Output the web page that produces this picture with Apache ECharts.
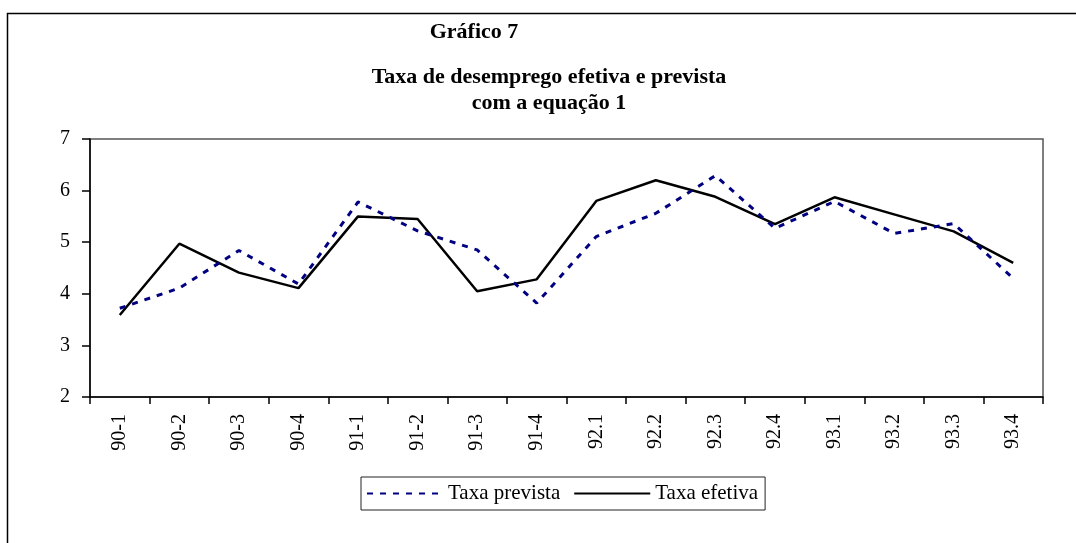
<!DOCTYPE html>
<html>
<head>
<meta charset="utf-8">
<title>Gráfico 7</title>
<script src="https://cdn.jsdelivr.net/npm/echarts@6/dist/echarts.min.js"></script>
<style>
  html, body { margin: 0; padding: 0; background: #fff; }
  #chart { width: 1076px; height: 543px; }
</style>
</head>
<body>
<div id="chart"></div>
<script>
// trimestres
var categories = ['90-1', '90-2', '90-3', '90-4', '91-1', '91-2', '91-3', '91-4',
  '92.1', '92.2', '92.3', '92.4', '93.1', '93.2', '93.3', '93.4']
// taxa prevista (equação 1)
var taxaPrevista = [3.72, 4.11, 4.84, 4.19, 5.78, 5.22, 4.85, 3.82,
  5.11, 5.56, 6.29, 5.27, 5.79, 5.17, 5.36, 4.30]
// taxa efetiva
var taxaEfetiva = [3.59, 4.97, 4.41, 4.11, 5.50, 5.45, 4.05, 4.28,
  5.80, 6.20, 5.88, 5.35, 5.87, 5.54, 5.21, 4.60]
var yTicks = [2, 7, 1] // min, max, interval

var serif = '"Liberation Serif", "DejaVu Serif", serif'

var chart = echarts.init(document.getElementById('chart'))

var option = {
  backgroundColor: '#fff',
  animation: false,
  graphic: [
    {
      // moldura externa
      type: 'rect',
      shape: { x: 7.5, y: 13.5, width: 1200, height: 700 },
      style: { fill: 'none', stroke: '#000', lineWidth: 1.5 },
      silent: true
    },
    {
      type: 'text',
      x: 474,
      y: 32,
      style: {
        text: 'Gráfico 7',
        font: 'bold 22px ' + serif,
        fill: '#000',
        align: 'center',
        verticalAlign: 'middle'
      }
    },
    {
      type: 'text',
      x: 549,
      y: 77,
      style: {
        text: 'Taxa de desemprego efetiva e prevista',
        font: 'bold 22px ' + serif,
        fill: '#000',
        align: 'center',
        verticalAlign: 'middle'
      }
    },
    {
      type: 'text',
      x: 549,
      y: 103,
      style: {
        text: 'com a equação 1',
        font: 'bold 22px ' + serif,
        fill: '#000',
        align: 'center',
        verticalAlign: 'middle'
      }
    }
  ],
  legend: {
    left: 361,
    top: 477,
    padding: [6, 7, 6, 5],
    itemWidth: 76,
    itemHeight: 14,
    itemGap: 13,
    borderColor: '#222',
    borderWidth: 1,
    itemStyle: { opacity: 0 },
    textStyle: {
      color: '#000',
      fontSize: 21,
      fontFamily: serif
    },
    data: ['Taxa prevista', 'Taxa efetiva']
  },
  grid: {
    left: 90,
    right: 33,
    top: 139,
    bottom: 146,
    show: true,
    borderColor: '#555',
    borderWidth: 1.5
  },
  xAxis: {
    type: 'category',
    data: categories,
    boundaryGap: true,
    axisLine: { lineStyle: { color: '#000', width: 1.5 } },
    axisTick: { show: true, length: 7, lineStyle: { color: '#000', width: 1.5 } },
    axisLabel: {
      rotate: 90,
      margin: 17,
      color: '#000',
      fontSize: 20,
      fontFamily: serif,
      interval: 0
    },
    splitLine: { show: false }
  },
  yAxis: {
    type: 'value',
    min: yTicks[0],
    max: yTicks[1],
    interval: yTicks[2],
    axisLine: { show: true, lineStyle: { color: '#000', width: 1.5 } },
    axisTick: { show: true, length: 8, lineStyle: { color: '#000', width: 1.5 } },
    axisLabel: {
      margin: 20,
      color: '#000',
      fontSize: 20,
      fontFamily: serif
    },
    splitLine: { show: false }
  },
  series: [
    {
      name: 'Taxa prevista',
      type: 'line',
      data: taxaPrevista,
      symbol: 'none',
      z: 3,
      lineStyle: {
        color: '#000080',
        width: 3,
        type: [6, 7]
      },
      itemStyle: { color: '#000080' }
    },
    {
      name: 'Taxa efetiva',
      type: 'line',
      data: taxaEfetiva,
      symbol: 'none',
      z: 2,
      lineStyle: {
        color: '#000',
        width: 2.5
      },
      itemStyle: { color: '#000' }
    }
  ]
}

chart.setOption(option)
</script>
</body>
</html>
